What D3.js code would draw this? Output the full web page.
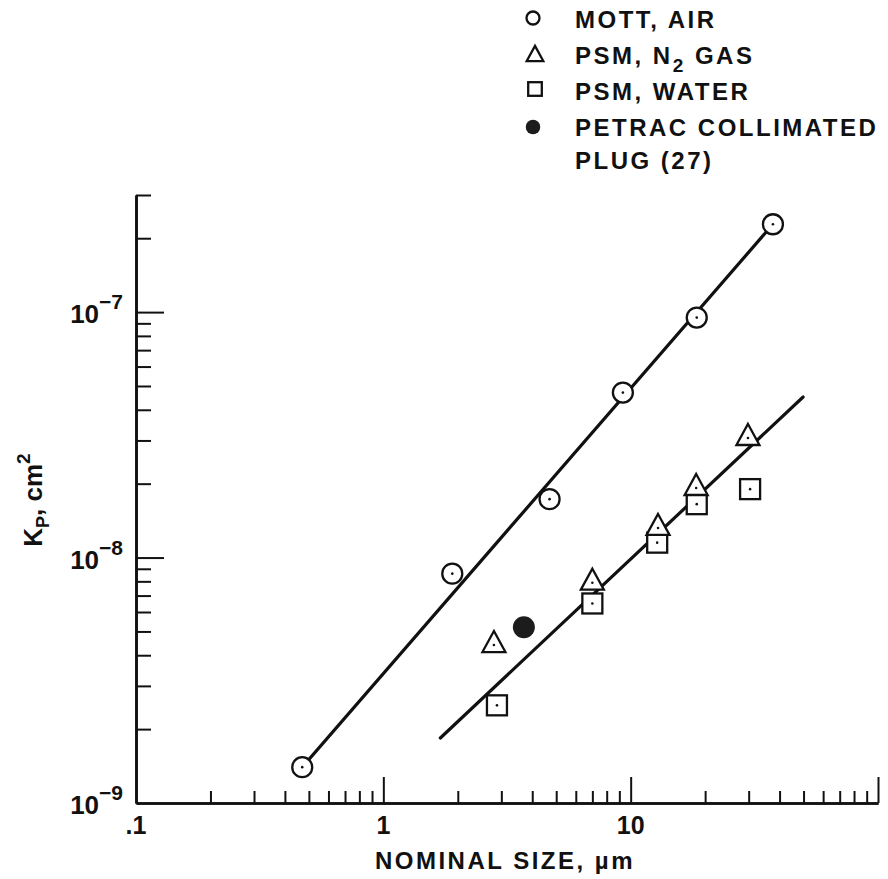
<!DOCTYPE html>
<html><head><meta charset="utf-8">
<script src="https://cdn.jsdelivr.net/npm/d3@7"></script>
<style>
body{margin:0;background:#fff}
svg{display:block}
text{font-family:"Liberation Sans",Arial,Helvetica,sans-serif;font-weight:bold;fill:#111}
</style>
</head><body>
<svg id="c" width="888" height="879"></svg>
<script>
// ---- data ----
const mottX  = [0.47, 1.9, 4.7, 9.3, 18.5, 37.6];          // nominal size, um
const mottK  = [1.40e-9, 8.6e-9, 1.73e-8, 4.7e-8, 9.5e-8, 2.28e-7]; // Kp, cm2
const psmN2X = [2.8, 7.0, 12.9, 18.4, 29.8];
const psmN2K = [4.4e-9, 7.9e-9, 1.32e-8, 1.92e-8, 3.07e-8];
const psmWaterX = [2.88, 7.0, 12.8, 18.5, 30.4];
const psmWaterK = [2.5e-9, 6.5e-9, 1.15e-8, 1.65e-8, 1.90e-8];
const petracX = [3.7];
const petracK = [5.2e-9];
const mottFitX = [0.47, 37.6];
const mottFitK = [1.40e-9, 2.28e-7];
const psmFitX = [1.70, 49.8];
const psmFitK = [1.84e-9, 4.51e-8];
const xTickValues = [0.1, 1, 10];
const xTickLabels = [".1", "1", "10"];
const yTickValues = [1e-9, 1e-8, 1e-7];
const yTickExps = ["\u22129", "\u22128", "\u22127"];
const legendLabels = ["MOTT, AIR", "PSM, N|2| GAS", "PSM, WATER", "PETRAC COLLIMATED", "PLUG (27)"];

// ---- scales ----
const svg = d3.select("#c");
const ink = "#111";
const x = d3.scaleLog().domain([0.1, 100]).range([136, 878]);
const y = d3.scaleLog().domain([1e-9, 3e-7]).range([803, 195]);

// minor tick values
const xMinor = [], yMinor = [];
[-1, 0, 1].forEach(e => { for (let m = 2; m <= 9; m++) xMinor.push(m * Math.pow(10, e)); });
[-9, -8, -7].forEach(e => { for (let m = 2; m <= 9; m++) { const v = m * Math.pow(10, e); if (v <= 3.0001e-7) yMinor.push(v); } });

function styleAxis(g, w) {
  g.selectAll("path,line").attr("stroke", ink).attr("stroke-width", w);
  g.select(".domain").attr("stroke-width", 2.6);
  g.selectAll("text").remove();
}

// y axis
const gyMin = svg.append("g").attr("transform", `translate(${x(0.1)},0)`)
  .call(d3.axisLeft(y).tickValues(yMinor).tickSize(-15).tickSizeOuter(0));
styleAxis(gyMin, 2);
const gyMaj = svg.append("g").attr("transform", `translate(${x(0.1)},0)`)
  .call(d3.axisLeft(y).tickValues(yTickValues.slice(1)).tickSize(-28).tickSizeOuter(0));
styleAxis(gyMaj, 2);

// x axis
const gxMin = svg.append("g").attr("transform", `translate(0,${y(1e-9)})`)
  .call(d3.axisBottom(x).tickValues(xMinor).tickSize(-12).tickSizeOuter(0));
styleAxis(gxMin, 2);
const gxMaj = svg.append("g").attr("transform", `translate(0,${y(1e-9)})`)
  .call(d3.axisBottom(x).tickValues([1, 10, 100]).tickSize(-26).tickSizeOuter(0));
styleAxis(gxMaj, 2);

// y tick labels
yTickValues.forEach((v, i) => {
  const t = svg.append("text").attr("x", 123).attr("y", y(v) + 11)
    .attr("text-anchor", "end").style("font-size", "26px");
  t.append("tspan").text("10");
  t.append("tspan").attr("dy", -14).style("font-size", "21px").text(yTickExps[i]);
});
// x tick labels
svg.selectAll(".xl").data(xTickValues).join("text").attr("class", "xl")
  .attr("x", d => x(d)).attr("y", 834).attr("text-anchor", "middle")
  .style("font-size", "25px").text((d, i) => xTickLabels[i]);

// axis titles
svg.append("text").attr("x", 505).attr("y", 869).attr("text-anchor", "middle")
  .style("font-size", "24px").style("letter-spacing", "2.5px")
  .text("NOMINAL SIZE, \u00b5m");
const yt = svg.append("text").attr("transform", "translate(42,500) rotate(-90)")
  .attr("text-anchor", "middle").style("font-size", "26px");
yt.append("tspan").text("K");
yt.append("tspan").attr("dy", 7).style("font-size", "18px").text("P");
yt.append("tspan").attr("dy", -7).text(", cm");
yt.append("tspan").attr("dy", -12).style("font-size", "19px").text("2");

// fit lines
const line = d3.line().x(d => x(d[0])).y(d => y(d[1]));
[[mottFitX, mottFitK], [psmFitX, psmFitK]].forEach(([xs, ks]) => {
  svg.append("path").datum(d3.zip(xs, ks)).attr("d", line)
    .attr("fill", "none").attr("stroke", ink).attr("stroke-width", 3.2).attr("stroke-linecap", "round");
});

// marker shapes
function triPath(w, h) { // centroid at origin
  return `M0,${-2*h/3}L${w/2},${h/3}L${-w/2},${h/3}Z`;
}
function drawMarker(g, type, cx, cy, s) {
  if (type === "circle") {
    g.append("circle").attr("cx", cx).attr("cy", cy).attr("r", 10*s)
      .attr("fill", "#fff").attr("stroke", ink).attr("stroke-width", 2.3);
  } else if (type === "square") {
    g.append("rect").attr("x", cx - 10*s).attr("y", cy - 10*s).attr("width", 20*s).attr("height", 20*s)
      .attr("fill", "#fff").attr("stroke", ink).attr("stroke-width", 2.3);
  } else if (type === "triangle") {
    g.append("path").attr("transform", `translate(${cx},${cy})`).attr("d", triPath(23*s, 21*s))
      .attr("fill", "#fff").attr("stroke", ink).attr("stroke-width", 2.3).attr("stroke-linejoin", "miter");
  } else if (type === "filled") {
    g.append("circle").attr("cx", cx).attr("cy", cy).attr("r", 11*s).attr("fill", "#1c1c1c");
  }
  if (s === 1 && type !== "filled") {
    g.append("circle").attr("cx", cx).attr("cy", cy).attr("r", 1.3).attr("fill", ink);
  }
}
const mk = svg.append("g");
d3.zip(psmWaterX, psmWaterK).forEach(d => drawMarker(mk, "square", x(d[0]), y(d[1]), 1));
d3.zip(psmN2X, psmN2K).forEach(d => drawMarker(mk, "triangle", x(d[0]), y(d[1]), 1));
d3.zip(mottX, mottK).forEach(d => drawMarker(mk, "circle", x(d[0]), y(d[1]), 1));
d3.zip(petracX, petracK).forEach(d => drawMarker(mk, "filled", x(d[0]), y(d[1]), 1));

// legend
const lg = svg.append("g");
const legSym = [["circle", 533, 18, 0.65], ["triangle", 535, 56, 0.72], ["square", 535, 89, 0.68], ["filled", 533, 127, 0.66]];
legSym.forEach(s => drawMarker(lg, s[0], s[1], s[2], s[3]));
const legY = [28, 64, 100, 136, 169];
legendLabels.forEach((lab, i) => {
  const t = lg.append("text").attr("x", 575).attr("y", legY[i])
    .style("font-size", "24px").style("letter-spacing", "2.5px");
  const parts = lab.split("|");
  if (parts.length === 1) { t.text(lab); }
  else {
    t.append("tspan").text(parts[0]);
    t.append("tspan").attr("dy", 8).style("font-size", "19px").text(parts[1]);
    t.append("tspan").attr("dy", -8).text(parts[2]);
  }
});
</script>
</body></html>
